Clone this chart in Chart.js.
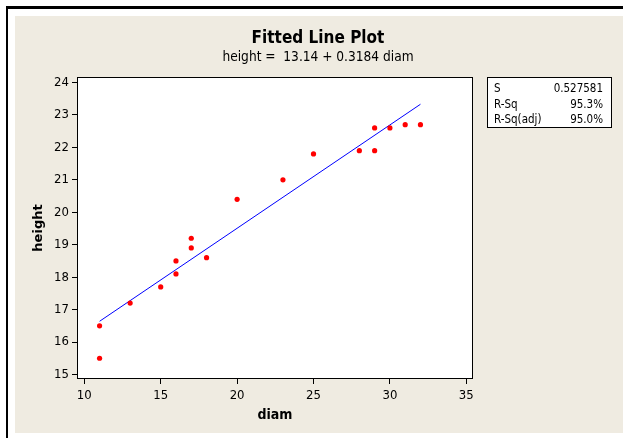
<!DOCTYPE html>
<html>
<head>
<meta charset="utf-8">
<title>Fitted Line Plot</title>
<script src="https://cdn.jsdelivr.net/npm/chart.js@4/dist/chart.umd.min.js"></script>
<style>
  html, body { margin: 0; padding: 0; background: #ffffff; }
  canvas { display: block; }
</style>
</head>
<body>
<canvas id="chart" width="623" height="438"></canvas>
<script>
// Data
const diam = [11, 11, 13, 15, 16, 16, 17, 17, 18, 20, 23, 25, 28, 29, 29, 30, 31, 32];
const height = [16.5, 15.5, 17.2, 17.7, 18.5, 18.1, 19.2, 18.9, 18.6, 20.4, 21.0, 21.8, 21.9, 22.6, 21.9, 22.6, 22.7, 22.7];

// Ends of the fitted regression line
const fitDiam = [11, 32];
const fitHeight = [16.64, 23.33];

// Tick labels
const xTicks = [10, 15, 20, 25, 30, 35];
const yTicks = [15, 16, 17, 18, 19, 20, 21, 22, 23, 24];

// Texts
const titleText = 'Fitted Line Plot';
const subtitleText = 'height =  13.14 + 0.3184 diam';
const statLabels = ['S', 'R-Sq', 'R-Sq(adj)'];
const statValues = ['0.527581', '95.3%', '95.0%'];

const FONT = "'DejaVu Sans Condensed', 'DejaVu Sans', sans-serif";
const beige = '#efebe1';

// Page frame, title, plot box and the summary box (drawn around the chart)
const framePlugin = {
  id: 'frame',
  beforeDraw(chart) {
    const { ctx, chartArea } = chart;
    ctx.save();
    ctx.fillStyle = '#ffffff';
    ctx.fillRect(0, 0, chart.width, chart.height);
    ctx.fillStyle = '#000000';
    ctx.fillRect(6, 6, chart.width - 6, 3);     // top rule
    ctx.fillRect(6, 6, 2, chart.height - 6);    // left rule
    ctx.fillStyle = beige;
    ctx.fillRect(15, 16, chart.width - 15, 417);
    ctx.fillStyle = '#ffffff';
    ctx.fillRect(chartArea.left, chartArea.top, chartArea.right - chartArea.left, chartArea.bottom - chartArea.top);
    ctx.restore();
  },
  afterDraw(chart) {
    const { ctx, chartArea } = chart;
    ctx.save();

    /* Plot box */
    ctx.strokeStyle = '#000000';
    ctx.lineWidth = 1;
    ctx.strokeRect(chartArea.left + 0.5, chartArea.top + 0.5,
      chartArea.right - chartArea.left - 1, chartArea.bottom - chartArea.top - 1);

    /* Title and fitted equation */
    ctx.fillStyle = '#000000';
    ctx.textAlign = 'center';
    ctx.textBaseline = 'alphabetic';
    ctx.font = 'bold 17px ' + FONT;
    ctx.fillText(titleText, 318, 43);
    ctx.font = '13.6px ' + FONT;
    ctx.fillText(subtitleText, 318, 61);

    /* Summary box */
    ctx.fillStyle = '#ffffff';
    ctx.fillRect(487, 77, 125, 51);
    ctx.strokeRect(487.5, 77.5, 124, 50);
    ctx.fillStyle = '#000000';
    ctx.font = '11.5px ' + FONT;
    statLabels.forEach((label, i) => {
      const y = 92 + i * 15.6;
      ctx.textAlign = 'left';
      ctx.fillText(label, 494, y);
      ctx.textAlign = 'right';
      ctx.fillText(statValues[i], 603, y);
    });

    ctx.restore();
  },
};

const points = diam.map((d, i) => ({ x: d, y: height[i] }));
const fitLine = fitDiam.map((d, i) => ({ x: d, y: fitHeight[i] }));

const tickGrid = {
  drawOnChartArea: false,
  drawTicks: true,
  tickLength: 5,
  color: '#000000',
  lineWidth: 1,
};

new Chart(document.getElementById('chart'), {
  type: 'scatter',
  data: {
    datasets: [
      {
        data: points,
        backgroundColor: '#ff0000',
        borderWidth: 0,
        pointRadius: 2.6,
        order: 0,
      },
      {
        data: fitLine,
        showLine: true,
        borderColor: '#0000ff',
        borderWidth: 1,
        pointRadius: 0,
        order: 1,
      },
    ],
  },
  options: {
    responsive: false,
    animation: false,
    devicePixelRatio: 1,
    events: [],
    layout: { padding: { left: 20, top: 77, right: 150, bottom: 10 } },
    scales: {
      x: {
        type: 'linear',
        min: 9.522,
        max: 35.438,
        afterBuildTicks: (scale) => { scale.ticks = xTicks.map((v) => ({ value: v })); },
        afterFit: (scale) => { scale.height = 49; },
        grid: tickGrid,
        border: { display: false },
        ticks: { color: '#000000', padding: 4, font: { family: FONT, size: 13 } },
        title: {
          display: true,
          text: 'diam',
          color: '#000000',
          padding: { top: 0, bottom: 4.6 },
          font: { family: FONT, size: 14, weight: 'bold' },
        },
      },
      y: {
        type: 'linear',
        min: 14.861,
        max: 24.17,
        afterBuildTicks: (scale) => { scale.ticks = yTicks.map((v) => ({ value: v })); },
        afterFit: (scale) => { scale.width = 57; },
        grid: tickGrid,
        border: { display: false },
        ticks: { color: '#000000', padding: 3, font: { family: FONT, size: 13 } },
        title: {
          display: true,
          text: 'height',
          color: '#000000',
          padding: { top: 11.2, bottom: 0 },
          font: { family: "'DejaVu Sans', sans-serif", size: 13, weight: 'bold' },
        },
      },
    },
    plugins: {
      legend: { display: false },
      tooltip: { enabled: false },
    },
  },
  plugins: [framePlugin],
});
</script>
</body>
</html>
